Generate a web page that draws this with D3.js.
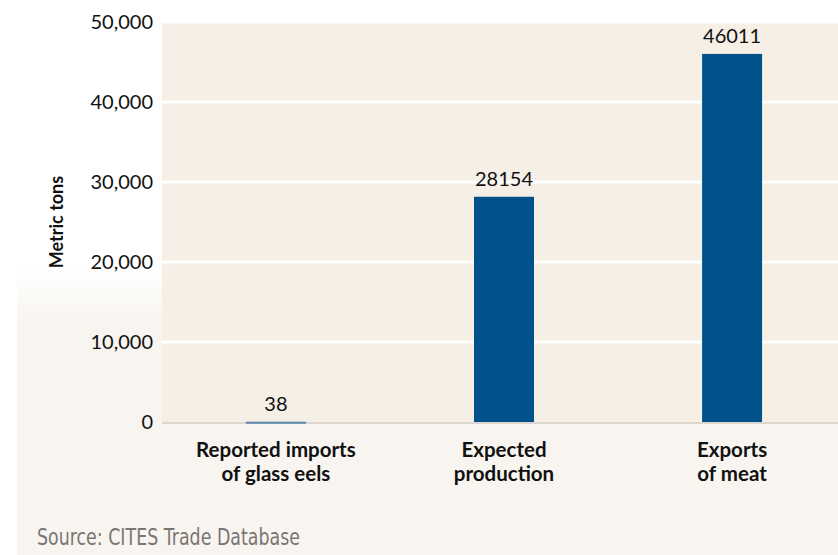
<!DOCTYPE html>
<html><head><meta charset="utf-8">
<script src="https://cdn.jsdelivr.net/npm/d3@7"></script>
<style>html,body{margin:0;padding:0;background:#fff;}svg{display:block;}</style>
</head><body>
<svg id="c" width="838" height="555"></svg>
<script>
const categories = [["Reported imports","of glass eels"],["Expected","production"],["Exports","of meat"]];
const categoryKeys = ["imports","production","exports"];
const values = [38, 28154, 46011];
const tickValues = [0, 10000, 20000, 30000, 40000, 50000];

const svg = d3.select("#c");
const W = 838, H = 555;
const m = {left:162, right:-8, top:22, bottom:133};
const FONT = "Lato, 'Open Sans', sans-serif";

// soft light backdrop
const defs = svg.append("defs");
const g = defs.append("linearGradient").attr("id","bgfade").attr("x1",0).attr("y1",0).attr("x2",0).attr("y2",1);
g.append("stop").attr("offset","0%").attr("stop-color","#ffffff");
g.append("stop").attr("offset","18%").attr("stop-color","#f8f5f0");
g.append("stop").attr("offset","100%").attr("stop-color","#f8f5f0");
svg.append("rect").attr("x",17).attr("y",270).attr("width",W-17).attr("height",H-270).attr("fill","url(#bgfade)");

const x = d3.scaleBand().domain(categoryKeys).range([m.left, W - m.right]).paddingInner(0.737).paddingOuter(0.368);
const y = d3.scaleLinear().domain([0,50000]).range([H - m.bottom, m.top]);

// plot background
svg.append("rect").attr("x",m.left).attr("y",y(50000)).attr("width",W-m.left).attr("height",y(0)-y(50000)).attr("fill","#f5efe6");

// gridlines
svg.append("g").selectAll("line").data(tickValues.filter(d=>d>0)).join("line")
  .attr("x1",m.left).attr("x2",W).attr("y1",d=>y(d)).attr("y2",d=>y(d))
  .attr("stroke","#ffffff").attr("stroke-width",3);

// zero line
svg.append("line").attr("x1",m.left).attr("x2",W).attr("y1",y(0)+1).attr("y2",y(0)+1).attr("stroke","#dcd6cf").attr("stroke-width",2);

// y axis labels
const yAxis = d3.axisLeft(y).tickValues(tickValues).tickFormat(d3.format(",")).tickSize(0).tickPadding(9);
const ya = svg.append("g").attr("transform",`translate(${m.left},0)`).call(yAxis);
ya.select(".domain").remove();
ya.selectAll("text").attr("font-family",FONT).attr("font-size",20).attr("fill","#111");

// bars
svg.append("g").selectAll("rect").data(values).join("rect")
  .attr("x",(d,i)=>x(categoryKeys[i])).attr("width",x.bandwidth())
  .attr("y",d=>y(d)).attr("height",d=>Math.max(2, y(0)-y(d)))
  .attr("fill",(d,i)=> i===0 ? "#5b86ad" : "#01518a");

// value labels
svg.append("g").selectAll("text").data(values).join("text")
  .attr("x",(d,i)=>x(categoryKeys[i])+x.bandwidth()/2)
  .attr("y",d=>y(d)-11)
  .attr("text-anchor","middle").attr("font-family",FONT).attr("font-size",20).attr("fill","#111")
  .text(d=>d);

// category labels
const cl = svg.append("g").selectAll("text").data(categories).join("text")
  .attr("x",(d,i)=>x(categoryKeys[i])+x.bandwidth()/2)
  .attr("y",457)
  .attr("text-anchor","middle").attr("font-family",FONT).attr("font-weight","bold").attr("font-size",20.5).attr("fill","#111");
cl.selectAll("tspan").data(d=>d).join("tspan")
  .attr("x",function(){return d3.select(this.parentNode).attr("x");})
  .attr("dy",(d,i)=> i===0 ? 0 : 24).text(d=>d);

// y title
svg.append("text").attr("transform","translate(63,222) rotate(-90)")
  .attr("text-anchor","middle").attr("font-family",FONT).attr("font-weight","bold").attr("font-size",18).attr("fill","#111")
  .text("Metric tons");

// source
svg.append("text").attr("x",37).attr("y",545)
  .attr("font-family","'DejaVu Sans', sans-serif").attr("font-size",23).attr("fill","#7a7672")
  .attr("textLength",263).attr("lengthAdjust","spacingAndGlyphs")
  .text("Source: CITES Trade Database");
</script>
</body></html>
